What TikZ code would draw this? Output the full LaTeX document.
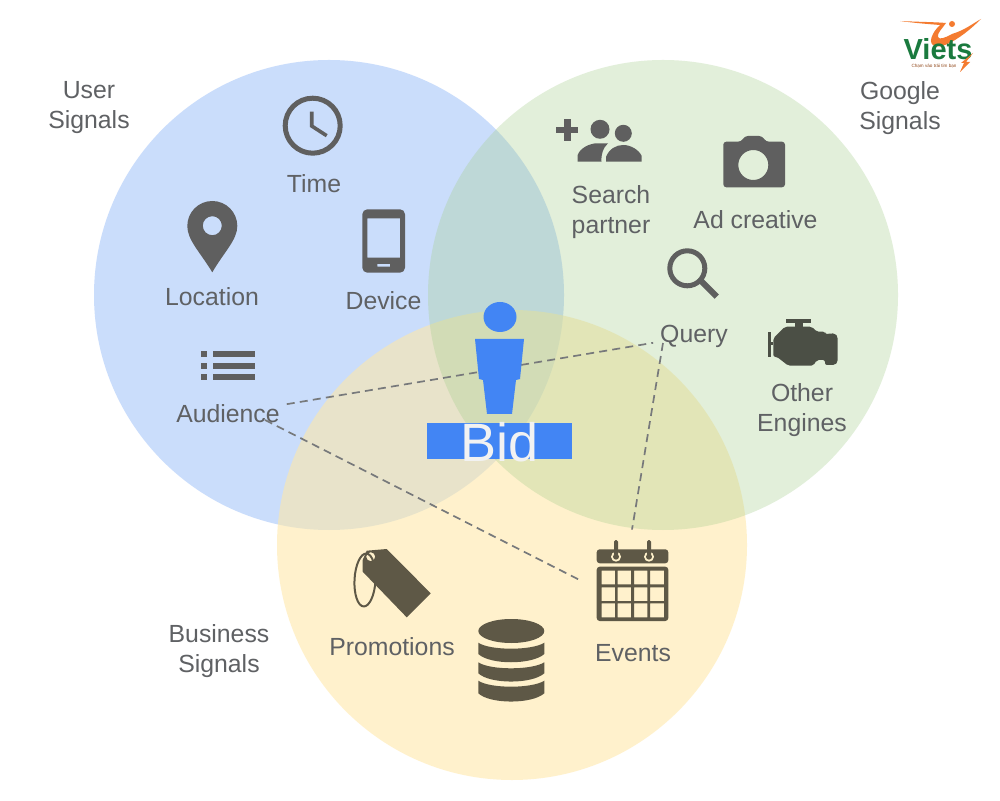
\documentclass[tikz,border=0pt]{standalone}
\usepackage{fontspec}
\setmainfont{Liberation Sans}
\usepackage{xcolor}
\usetikzlibrary{positioning}
\definecolor{usercol}{HTML}{4285F4}
\definecolor{googlecol}{HTML}{A7CF8F}
\definecolor{bizcol}{HTML}{FFE8A6}
\definecolor{labelcol}{HTML}{5F6164}
\definecolor{iconcol}{HTML}{5F5F5F}
\definecolor{iconbiz}{HTML}{5E5846}
\definecolor{iconeng}{HTML}{4B4F45}
\definecolor{logogreen}{HTML}{1A7A3E}
\definecolor{logoorange}{HTML}{F47B30}
\begin{document}
\begin{tikzpicture}[x=0.5pt,y=-0.5pt,
	venn/.style = {fill opacity=#1},
	lab/.style = {text=labelcol, align=center, font=\fontsize{12.4}{15}\selectfont},
	sig/.style = {draw=labelcol!85!white, dash pattern=on 4pt off 2.6pt, line width=0.85pt},
	ico/.style = {fill=iconcol, even odd rule},
	box/.style = {inner sep=0pt, minimum width=52pt, minimum height=50pt}]
	\useasboundingbox (0,0) rectangle (1000,801);
	\fill[white] (0,0) rectangle (1000,801);
	% circles
	\fill[usercol, venn=0.28] (329,295) circle (235);
	\fill[bizcol, venn=0.57] (512,545) circle (235);
	\fill[googlecol, venn=0.33] (663,295) circle (235);
	% labels
	\node[lab] (user) at (89,108) {User\\Signals};
	\node[lab] (google) at (900,108) {Google\\Signals};
	\node[lab] (biz) at (219,651) {Business\\Signals};
	\node[lab] (time) at (314,184) {Time};
	\node[lab] (loc) at (212,297) {Location};
	\node[lab] (dev) at (383.5,301) {Device};
	\node[lab] (aud) at (228,414) {Audience};
	\node[lab] (part) at (611,212) {Search\\partner};
	\node[lab] (adc) at (755.5,220) {Ad creative};
	\node[lab] (qry) at (694,336) {Query};
	\node[lab] (eng) at (802,410) {Other\\Engines};
	\node[lab] (promo) at (392,647) {Promotions};
	\node[lab] (ev) at (633,653) {Events};
	\node[box] (cal) at (632,580) {};
	\coordinate (audtail) at (265,420);
	\coordinate (qrytail) at (663,343);
	% connectors
	\draw[sig] (aud) -- (qry);
	\draw[sig] (qrytail) -- (cal.north);
	\draw[sig] (audtail) -- (cal.west);
	% clock
	\draw[iconcol, line width=2.5pt] (312.7,125.7) circle (27.5);
	\draw[iconcol, line width=1.8pt] (311.7,111.7) -- (311.7,126) -- (326.7,135.7);
	% pin
	\path[ico] (212.3,272.3) .. controls (200,252) and (187.3,240) .. (187.3,226)
		arc (180:360:25) .. controls (237.3,240) and (224,252) .. (212.3,272.3) -- cycle
		(212.3,225.7) circle (9.5);
	% phone
	\path[ico] [rounded corners=2.5pt] (362.3,209.3) rectangle (405,272.7)
		[sharp corners] (367.3,218.3) rectangle (400,257.7)
		(377.3,264) rectangle (390,266.7);
	% list
	\foreach \y in {351,362.7,374} {
		\fill[iconcol] (200.7,\y) rectangle +(6,6);
		\fill[iconcol] (213.3,\y) rectangle +(42,6);
	}
	% search partner
	\fill[iconcol] (564,119.3) rectangle (570.7,140.7);
	\fill[iconcol] (556,126.7) rectangle (578.3,133.3);
	\fill[iconcol] (600,129.3) circle (9.5);
	\fill[iconcol] (623.3,133.3) circle (8.5);
	\fill[iconcol] (577.7,161.7) -- (577.7,155) .. controls (580,148) and (590,143.3) .. (597,143.3)
		-- (608,143.3) .. controls (603,148) and (601,154) .. (601.5,161.7) -- cycle;
	\fill[iconcol] (606,161.7) -- (606,157) .. controls (609,149) and (616,145) .. (623.3,145)
		.. controls (631,145) and (639,150) .. (641.7,156) -- (641.7,161.7) -- cycle;
	% camera
	\path[ico] [rounded corners=1.5pt] (723.3,141.7) -- (741,141.7) -- (745,136) -- (762,136) -- (766,141.7)
		-- (785,141.7) -- (785,187.3) -- (723.3,187.3) -- cycle
		[sharp corners] (753.3,165) circle (15);
	% magnifier
	\draw[iconcol, line width=2.5pt] (687.3,268.3) circle (17.5);
	\draw[iconcol, line width=3pt] (701,281) -- (716.7,296.7);
	% engine
	\fill[iconeng] (786,319.3) rectangle (811,322.7);
	\fill[iconeng] (795,322.7) rectangle (803.3,328);
	\fill[iconeng, rounded corners=1pt] (773.3,338.3) -- (785,326.7) -- (811.7,326.7) -- (816.7,331.7)
		-- (825,331.7) -- (825,334) -- (835,333.3) -- (837.7,336.7) -- (837.7,362) -- (835,365)
		-- (825,365) -- (825,360) -- (816.7,360) -- (813.3,365.7) -- (788.3,365.7) -- (776.7,356.7)
		-- (773.3,356.7) -- cycle;
	\fill[iconeng] (768.3,331.7) rectangle (771,356.7);
	\fill[iconeng] (771,341.7) rectangle (773.3,345);
	% calendar
	\fill[iconbiz, rounded corners=1.5pt] (596.7,563.3) -- (596.7,549.3) -- (668.3,549.3) -- (668.3,563.3) -- cycle;
	\path[fill=iconbiz, even odd rule] [rounded corners=1.5pt] (596.7,566.7) rectangle (668.3,621) [sharp corners]
		\foreach \cx/\cw in {601.7/13.3,617.7/13.3,634/13.3,650/14} {
			\foreach \cy/\ch in {570.7/13.6,587.3/13.7,603.3/14} {
				(\cx,\cy) rectangle +(\cw,\ch)
			}
		};
	\foreach \cx in {616,649} {
		\fill[bizcol!60!white] (\cx,556.7) circle (5);
		\fill[iconbiz] (\cx,556.7) circle (3);
		\fill[iconbiz, rounded corners=0.8pt] (\cx-2,540) rectangle (\cx+2,556);
	}
	% tag
	\draw[iconbiz, line width=1pt, rotate around={-3:(365,580)}] (365,580) ellipse (10.5 and 26.5);
	\path[fill=iconbiz, even odd rule] (362.7,560) -- (366.7,550.7) -- (386.7,549) -- (430.7,593.3) -- (406.7,617.3)
		-- (362.7,571.7) -- cycle (370.7,556.7) circle (4.5);
	% database
	\fill[iconbiz] (511.3,631) ellipse (33 and 12);
	\foreach \ty/\by in {642.7/654,662.3/673.3,680.7/693.3} {
		\fill[iconbiz] (478.3,\ty) .. controls (490,\ty+8) and (532,\ty+8) .. (544.3,\ty)
			-- (544.3,\by) .. controls (532,\by+11) and (490,\by+11) .. (478.3,\by) -- cycle;
	}
	% bid figure
	\fill[usercol] (500,317) ellipse (16.5 and 15);
	\fill[usercol] (475,339) -- (524,339) -- (520,379) -- (516,380) -- (512,414) -- (487,414)
		-- (483,380) -- (479,379) -- cycle;
	\node[fill=usercol, minimum width=72.5pt, minimum height=18pt, inner sep=0pt] (bar) at (499.5,441) {};
	\node[text=white!95!black, font=\fontsize{27}{27}\selectfont, inner sep=0pt] (bid) at (499.5,442) {Bid};
	% logo
	\fill[logoorange] (900,21) .. controls (920,22) and (935,22) .. (946,23) .. controls (942,29) and (937,33) .. (938,37)
		.. controls (939,40) and (945,38) .. (952,34) .. controls (965,30) and (972,24) .. (981,19)
		.. controls (972,28) and (958,40) .. (945,45) .. controls (935,49) and (927,45) .. (933,34)
		.. controls (935,30) and (938,27) .. (940,25) .. controls (927,24) and (915,23) .. (900,21) -- cycle;
	\fill[logoorange] (952,24) circle (3);
	\node[text=logogreen, font=\fontsize{14.5}{15}\bfseries\selectfont, inner sep=0pt] (viets) at (938,49) {Viets};
	\fill[logoorange] (973,53) -- (966,62) -- (970,62) -- (960,72) -- (964,63) -- (961,63) -- cycle;
	\node[text=logoorange!60!black, font=\fontsize{2.3}{3}\selectfont, inner sep=0pt] (slogan) at (934,66.5) {Chạm vào trái tim bạn};
\end{tikzpicture}
\end{document}
